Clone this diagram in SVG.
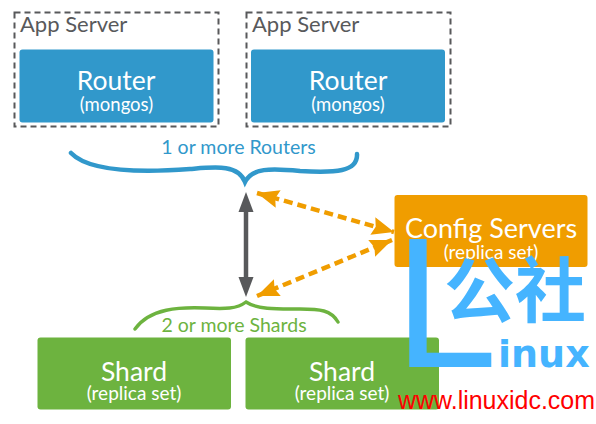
<svg xmlns="http://www.w3.org/2000/svg" width="596" height="424" viewBox="0 0 596 424">
<style>
text{font-family:"Lato","Noto Sans",sans-serif;text-anchor:middle}
.w{fill:#fff}
.big{font-size:26.500px}
.cfg{font-size:27px}
.sm{font-size:18.500px}
.rs{font-size:19px}
.app{font-size:22px;fill:#58595b;text-anchor:start}
.dash{fill:none;stroke:#58595b;stroke-width:2;stroke-dasharray:6 4}
.blue{fill:#3198cb}
.green{fill:#6db33f}
.or{fill:none;stroke:#f09d00;stroke-width:4.500;stroke-dasharray:9 5}
.wm{fill:#45b4ff;font-weight:bold}
</style>
<defs>
<marker id="oa" markerUnits="userSpaceOnUse" markerWidth="24" markerHeight="18" refX="22" refY="9" orient="auto-start-reverse" viewBox="0 0 24 18"><path d="M0 0L22 9L0 18L3 9Z" fill="#f09d00"/></marker>
</defs>
<g id="connectors">
<path d="M71 153C90 173 150 172 190 169C215 167 238 164 245 182C252 168 270 168 300 171C335 173 358 172 357 154" fill="none" stroke="#3198cb" stroke-width="4.500" stroke-linecap="round"/>
<path d="M135 329C150 308 180 307 205 308C225 309 237 309 246 302C258 310 280 309 300 309C320 309 331 310 338 322" fill="none" stroke="#6db33f" stroke-width="3.400" stroke-linecap="round"/>
<g id="grey-arrow"><path d="M246 205V285" stroke="#58595b" stroke-width="4.500" fill="none"/><path d="M246 192L253.500 212H238.500Z M246 297L253.500 277H238.500Z" fill="#58595b"/></g>
<path class="or" d="M257 193L394 232" marker-start="url(#oa)" marker-end="url(#oa)"/>
<path class="or" d="M257 296L392 240" marker-start="url(#oa)" marker-end="url(#oa)"/>
<text x="238.500" y="154" font-size="19.500" style="fill:#3198cb">1 or more Routers</text>
<text x="234" y="332" font-size="19.500" style="fill:#6db33f">2 or more Shards</text>
</g>
<g id="app-server-1"><rect class="dash" x="14.500" y="12.500" width="204" height="114"/><text class="app" x="20" y="32">App Server</text></g>
<g id="app-server-2"><rect class="dash" x="246.500" y="12.500" width="204" height="114"/><text class="app" x="252" y="32">App Server</text></g>
<g id="router-1"><rect class="blue" x="19.500" y="49.500" width="194" height="73" rx="3"/><text class="w big" x="116" y="90">Router</text><text class="w sm" x="116.500" y="111">(mongos)</text></g>
<g id="router-2"><rect class="blue" x="251" y="49.500" width="194" height="73" rx="3"/><text class="w big" x="348" y="90">Router</text><text class="w sm" x="348" y="111">(mongos)</text></g>
<g id="config-servers"><rect x="394.500" y="195" width="193" height="72" rx="3" fill="#f09d00"/><text class="w cfg" x="491" y="238">Config Servers</text><text class="w rs" x="491" y="259">(replica set)</text></g>
<g id="shard-1"><rect class="green" x="37.500" y="337.500" width="193.500" height="72" rx="3"/><text class="w big" x="134" y="381">Shard</text><text class="w rs" x="134" y="400">(replica set)</text></g>
<g id="shard-2"><rect class="green" x="245.500" y="337.500" width="193.500" height="72" rx="3"/><text class="w big" x="342" y="381">Shard</text><text class="w rs" x="342" y="400">(replica set)</text></g>
<g id="watermark">
<text x="394" y="367" font-size="186" style="font-family:'Liberation Sans',sans-serif;text-anchor:start;fill:#45b4ff">L</text>
<text class="wm" x="444" y="316" font-size="71" style="font-family:'Noto Sans CJK SC',sans-serif;text-anchor:start">公社</text>
<text class="wm" x="498" y="367" font-size="38" style="font-family:'DejaVu Sans',sans-serif;text-anchor:start">inux</text>
<text x="398" y="409" font-size="26" textLength="197" lengthAdjust="spacingAndGlyphs" style="font-family:'Liberation Sans',sans-serif;text-anchor:start;fill:#f00">www.linuxidc.com</text>
</g>
</svg>
